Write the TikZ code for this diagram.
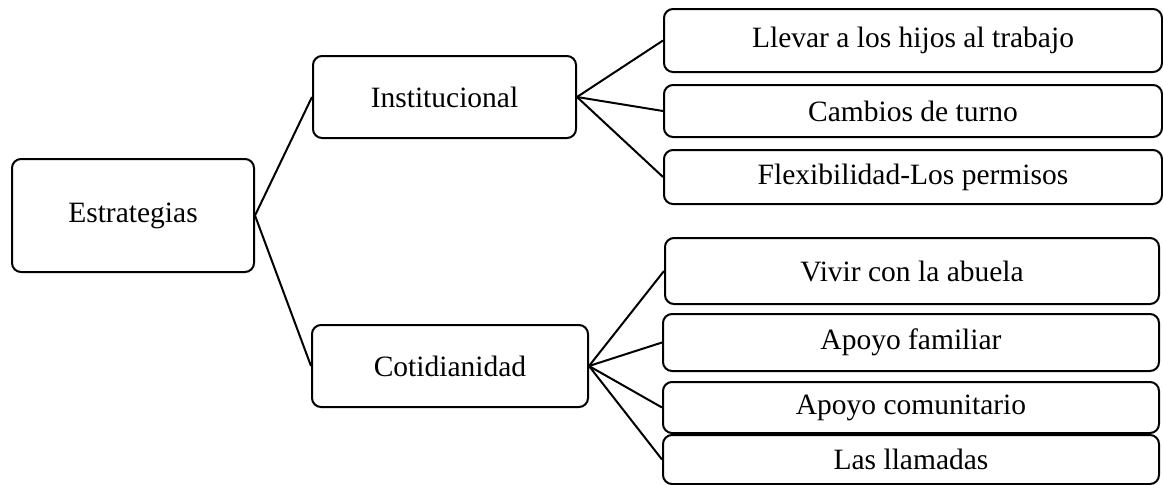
\documentclass[tikz,border=0pt]{standalone}
\usepackage{fontspec}
\setmainfont{Liberation Serif}
\begin{document}
\begin{tikzpicture}[x=1pt,y=-1pt,
  box/.style={draw=black,line width=2pt,rounded corners=9pt,inner sep=0pt,align=center,
    font=\fontsize{29.5}{34}\selectfont},
  link/.style={draw=black,line width=2pt}]
\useasboundingbox (0,0) rectangle (1163,485);
\node[box,minimum width=242pt,minimum height=113pt] (E) at (133,215.5) {Estrategias};
\node[box,minimum width=263pt,minimum height=82pt] (I) at (444.5,97) {Institucional};
\node[box,minimum width=276pt,minimum height=82pt] (C) at (450,366) {Cotidianidad};
\node[box,minimum width=498pt,minimum height=63pt] (r1) at (913,40.5) {Llevar a los hijos al trabajo};
\node[box,minimum width=498pt,minimum height=52pt] (r2) at (913,111) {Cambios de turno};
\node[box,minimum width=498pt,minimum height=54pt] (r3) at (913,177) {Flexibilidad-Los permisos};
\node[box,minimum width=494pt,minimum height=66pt] (r4) at (912,271) {Vivir con la abuela};
\node[box,minimum width=496pt,minimum height=57pt] (r5) at (911,342.5) {Apoyo familiar};
\node[box,minimum width=496pt,minimum height=51pt] (r6) at (911,407.5) {Apoyo comunitario};
\node[box,minimum width=496pt,minimum height=49pt] (r7) at (911,459.5) {Las llamadas};
\draw[link] (E.east) -- (I.west);
\draw[link] (E.east) -- (C.west);
\draw[link] (I.east) -- (r1.west);
\draw[link] (I.east) -- (r2.west);
\draw[link] (I.east) -- (r3.west);
\draw[link] (C.east) -- (r4.west);
\draw[link] (C.east) -- (r5.west);
\draw[link] (C.east) -- (r6.west);
\draw[link] (C.east) -- (r7.west);
\end{tikzpicture}
\end{document}
